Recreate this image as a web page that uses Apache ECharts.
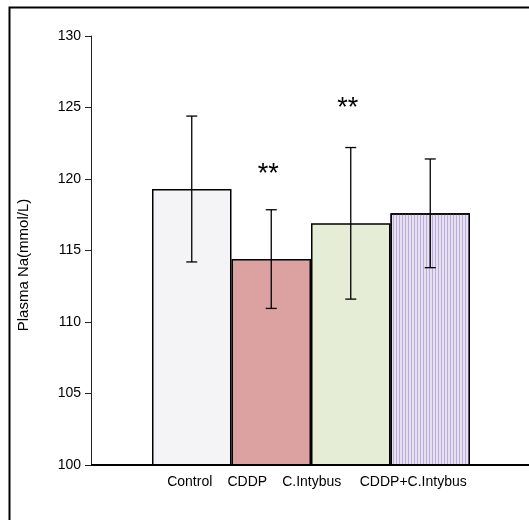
<!DOCTYPE html>
<html>
<head>
<meta charset="utf-8">
<script src="https://cdn.jsdelivr.net/npm/echarts@6/dist/echarts.min.js"></script>
<style>
  html, body { margin: 0; padding: 0; background: #fff; }
  #myChart { width: 529px; height: 520px; }
</style>
</head>
<body>
<div id="myChart"></div>
<script>
    // groups and values
    var categories = ['Control', 'CDDP', 'C.Intybus', 'CDDP+C.Intybus'];
    var means = [119.3, 114.4, 116.9, 117.6];
    var sd = [5.1, 3.45, 5.3, 3.8];
    // significance marks and the value they sit at
    var sigText = ['', '**', '**', ''];
    var sigAt = [0, 120.3, 124.9, 0];
    var yTicks = [100, 105, 110, 115, 120, 125, 130];

    var barColors = ['#f4f4f7', '#dca1a1', '#e5edd6', '#e6e0f1'];
    var FONT = 'Liberation Sans, Arial, sans-serif';

    // grid geometry (pixels)
    var gridLeft = 152, gridRight = 59, gridTop = 36, gridBottom = 55;
    var yAxisX = 91;
    // label shift so names sit packed under the bars like the original
    var labelShift = [-2, -24, -39, -17];

    var myChart = echarts.init(document.getElementById('myChart'));

    function init() {
        var barData = means.map(function (m, i) {
            var item = {
                value: m,
                itemStyle: { color: barColors[i] }
            };
            if (i === 3) {
                item.itemStyle.decal = {
                    symbol: 'rect',
                    symbolSize: 1,
                    color: '#bcaedb',
                    dashArrayX: [1, 2],
                    dashArrayY: [1, 0],
                    rotation: 0
                };
            }
            return item;
        });
        var errData = means.map(function (m, i) {
            return [i, m - sd[i], m + sd[i]];
        });
        var sigData = [];
        for (var i = 0; i < sigText.length; i++) {
            if (sigText[i]) { sigData.push([i, sigAt[i], sigText[i]]); }
        }
        var rich = {};
        labelShift.forEach(function (s, i) {
            var pad = Math.abs(s) * 2;
            rich['l' + i] = {
                fontFamily: FONT, fontSize: 14, color: '#000',
                padding: s < 0 ? [0, pad, 0, 0] : [0, 0, 0, pad]
            };
        });
        var baseY = 520 - gridBottom;

        var option = {
            animation: false,
            backgroundColor: '#fff',
            textStyle: { fontFamily: FONT },
            grid: { left: gridLeft, right: gridRight, top: gridTop, bottom: gridBottom },
            xAxis: {
                type: 'category',
                data: categories,
                axisLine: { show: false },
                axisTick: { show: false },
                axisLabel: {
                    margin: 10,
                    interval: 0,
                    formatter: function (v, idx) { return '{l' + idx + '|' + v + '}'; },
                    rich: rich
                }
            },
            yAxis: {
                type: 'value',
                min: 100,
                max: 130,
                interval: 5,
                offset: gridLeft - yAxisX,
                axisLine: { show: true, lineStyle: { color: '#222', width: 1 } },
                axisTick: { show: true, length: 6, lineStyle: { color: '#222' } },
                axisLabel: {
                    margin: 10, fontSize: 14, color: '#000', fontFamily: FONT,
                    formatter: function (v) { return yTicks.indexOf(v) >= 0 ? String(v) : ''; }
                },
                splitLine: { show: false }
            },
            graphic: [
                {
                    type: 'rect', silent: true, z: 0,
                    shape: { x: 9.5, y: 7.5, width: 640, height: 640 },
                    style: { fill: 'none', stroke: '#000', lineWidth: 2 }
                },
                {
                    type: 'line', silent: true, z: 10,
                    shape: { x1: yAxisX, y1: baseY, x2: 529, y2: baseY },
                    style: { stroke: '#000', lineWidth: 2 }
                },
                {
                    type: 'text', silent: true,
                    x: 24, y: 265, rotation: Math.PI / 2,
                    style: {
                        text: 'Plasma Na(mmol/L)',
                        fontFamily: FONT, fontSize: 15, fill: '#000',
                        align: 'center', verticalAlign: 'middle'
                    }
                }
            ],
            series: [
                {
                    type: 'bar',
                    data: barData,
                    barCategoryGap: '0%',
                    barWidth: '100%',
                    itemStyle: { borderColor: '#000', borderWidth: 1.5 }
                },
                {
                    type: 'custom',
                    z: 5,
                    data: errData,
                    renderItem: function (params, api) {
                        var lo = api.coord([api.value(0), api.value(1)]);
                        var hi = api.coord([api.value(0), api.value(2)]);
                        var cap = 5.5;
                        var st = { stroke: '#000', lineWidth: 1.3 };
                        return {
                            type: 'group',
                            children: [
                                { type: 'line', shape: { x1: hi[0], y1: hi[1], x2: lo[0], y2: lo[1] }, style: st },
                                { type: 'line', shape: { x1: hi[0] - cap, y1: hi[1], x2: hi[0] + cap, y2: hi[1] }, style: st },
                                { type: 'line', shape: { x1: lo[0] - cap, y1: lo[1], x2: lo[0] + cap, y2: lo[1] }, style: st }
                            ]
                        };
                    }
                },
                {
                    type: 'custom',
                    z: 6,
                    data: sigData,
                    renderItem: function (params, api) {
                        var p = api.coord([api.value(0), api.value(1)]);
                        return {
                            type: 'text',
                            x: p[0] - 3, y: p[1],
                            style: {
                                text: sigData[params.dataIndex][2],
                                fontFamily: FONT, fontSize: 27, fill: '#000',
                                align: 'center', verticalAlign: 'middle'
                            }
                        };
                    }
                }
            ]
        };
        myChart.setOption(option);
    }

    init();
</script>
</body>
</html>
